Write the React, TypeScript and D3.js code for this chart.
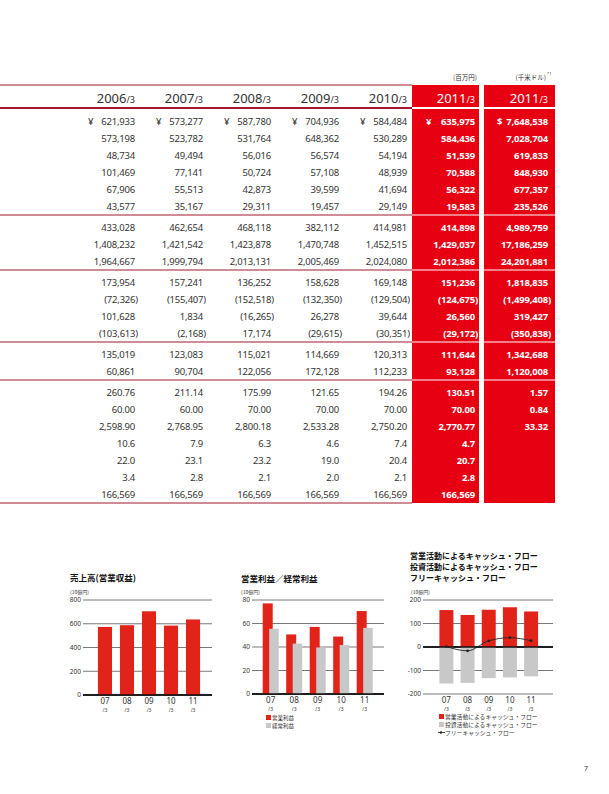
import React from "react";
import * as d3 from "d3";

// table: fiscal years (yen columns) + one USD column
const YEARS = ["2006", "2007", "2008", "2009", "2010", "2011"];

const GROUP1 = [
  ["621,933", "573,277", "587,780", "704,936", "584,484", "635,975"],
  ["573,198", "523,782", "531,764", "648,362", "530,289", "584,436"],
  ["48,734", "49,494", "56,016", "56,574", "54,194", "51,539"],
  ["101,469", "77,141", "50,724", "57,108", "48,939", "70,588"],
  ["67,906", "55,513", "42,873", "39,599", "41,694", "56,322"],
  ["43,577", "35,167", "29,311", "19,457", "29,149", "19,583"]
];
const USD1 = ["7,648,538", "7,028,704", "619,833", "848,930", "677,357", "235,526"];

const GROUP2 = [
  ["433,028", "462,654", "468,118", "382,112", "414,981", "414,898"],
  ["1,408,232", "1,421,542", "1,423,878", "1,470,748", "1,452,515", "1,429,037"],
  ["1,964,667", "1,999,794", "2,013,131", "2,005,469", "2,024,080", "2,012,386"]
];
const USD2 = ["4,989,759", "17,186,259", "24,201,881"];

const GROUP3 = [
  ["173,954", "157,241", "136,252", "158,628", "169,148", "151,236"],
  ["(72,326)", "(155,407)", "(152,518)", "(132,350)", "(129,504)", "(124,675)"],
  ["101,628", "1,834", "(16,265)", "26,278", "39,644", "26,560"],
  ["(103,613)", "(2,168)", "17,174", "(29,615)", "(30,351)", "(29,172)"]
];
const USD3 = ["1,818,835", "(1,499,408)", "319,427", "(350,838)"];

const GROUP4 = [
  ["135,019", "123,083", "115,021", "114,669", "120,313", "111,644"],
  ["60,861", "90,704", "122,056", "172,128", "112,233", "93,128"]
];
const USD4 = ["1,342,688", "1,120,008"];

const GROUP5 = [
  ["260.76", "211.14", "175.99", "121.65", "194.26", "130.51"],
  ["60.00", "60.00", "70.00", "70.00", "70.00", "70.00"],
  ["2,598.90", "2,768.95", "2,800.18", "2,533.28", "2,750.20", "2,770.77"],
  ["10.6", "7.9", "6.3", "4.6", "7.4", "4.7"],
  ["22.0", "23.1", "23.2", "19.0", "20.4", "20.7"],
  ["3.4", "2.8", "2.1", "2.0", "2.1", "2.8"],
  ["166,569", "166,569", "166,569", "166,569", "166,569", "166,569"]
];
const USD5 = ["1.57", "0.84", "33.32", "", "", "", ""];

const GROUPS = [
  { rows: GROUP1, usd: USD1 },
  { rows: GROUP2, usd: USD2 },
  { rows: GROUP3, usd: USD3 },
  { rows: GROUP4, usd: USD4 },
  { rows: GROUP5, usd: USD5 }
];

// charts (10億円)
const FY = ["07", "08", "09", "10", "11"];
const SALES = [573.3, 587.8, 704.9, 584.5, 636.0];
const OP_INCOME = [77.1, 50.7, 57.1, 48.9, 70.6];
const ORD_INCOME = [55.5, 42.9, 39.6, 41.7, 56.3];
const OP_CF = [157.2, 136.3, 158.6, 169.1, 151.2];
const INV_CF = [-155.4, -152.5, -132.4, -129.5, -124.7];
const FREE_CF = [1.8, -16.3, 26.3, 39.6, 26.6];

const RED = "#e60012";
const BAR_RED = "#e2231a";
const GRAY = "#c8c8c8";
const LINE_RED = "#a0192e";
const TXT = "#333";
const NUM_FONT = "'Noto Sans', 'DejaVu Sans', sans-serif";
const JP_FONT = "'Noto Sans CJK JP', sans-serif";

function Table() {
  const colX = d3.scaleLinear().domain([0, 5]).range([135, 475]);
  const usdX = 548;
  const redL = 412, redR = 479, usdL = 484, usdR = 555;
  const top = 85, headLine = 108;

  // row layout
  let y = 121;
  const rowYs: number[][] = [];
  const seps: number[] = [];
  GROUPS.forEach(g => {
    const ys: number[] = [];
    g.rows.forEach(() => {
      ys.push(y);
      y += 17;
    });
    rowYs.push(ys);
    const sep = y - 17 + 9;
    seps.push(sep);
    y = sep + 12;
  });
  const bottom = seps[seps.length - 1];

  const valX = (x: number, s: string) => (s.endsWith(")") ? x + 3 : x);

  return (
    <g>
      <rect x={redL} y={top} width={redR - redL} height={bottom - top} fill={RED} />
      <rect x={usdL} y={top} width={usdR - usdL} height={bottom - top} fill={RED} />
      <line x1={0} x2={redL} y1={top} y2={top} stroke={LINE_RED} strokeWidth={1.2} />
      <line x1={0} x2={redL} y1={headLine} y2={headLine} stroke={LINE_RED} strokeWidth={2} />
      <line x1={redL} x2={redR} y1={headLine} y2={headLine} stroke="#fff" strokeWidth={2} />
      <line x1={usdL} x2={usdR} y1={headLine} y2={headLine} stroke="#fff" strokeWidth={2} />
      {seps.map((s, i) => (
        <g key={i}>
          <line x1={0} x2={redL} y1={s} y2={s} stroke={LINE_RED} strokeWidth={1.2} />
          {i < seps.length - 1 && (
            <>
              <line x1={redL} x2={redR} y1={s} y2={s} stroke="#fff" strokeWidth={1.2} />
              <line x1={usdL} x2={usdR} y1={s} y2={s} stroke="#fff" strokeWidth={1.2} />
            </>
          )}
        </g>
      ))}

      {/* unit labels */}
      <text x={477} y={80} textAnchor="end" fontFamily={JP_FONT} fontSize={6.5} fill={TXT}>
        (百万円)
      </text>
      <text x={546} y={80} textAnchor="end" fontFamily={JP_FONT} fontSize={6.5} fill={TXT}>
        (千米ドル)
      </text>
      <text x={547} y={75} fontFamily={NUM_FONT} fontSize={4} fill={TXT}>
        *1
      </text>

      {/* header years */}
      {YEARS.map((yr, i) => (
        <text
          key={yr}
          x={colX(i)}
          y={103}
          textAnchor="end"
          fontFamily={NUM_FONT}
          fontSize={13}
          fill={i === 5 ? "#fff" : TXT}
        >
          {yr}
          <tspan fontSize={9}>/3</tspan>
        </text>
      ))}
      <text x={usdX} y={103} textAnchor="end" fontFamily={NUM_FONT} fontSize={13} fill="#fff">
        2011<tspan fontSize={9}>/3</tspan>
      </text>

      {/* currency signs */}
      {YEARS.map((yr, i) => (
        <text
          key={"c" + yr}
          x={colX(i) - (i === 5 ? 49 : 47)}
          y={rowYs[0][0] + 3.5}
          fontFamily={NUM_FONT}
          fontSize={9.5}
          fontWeight={i === 5 ? 700 : 400}
          fill={i === 5 ? "#fff" : TXT}
        >
          ¥
        </text>
      ))}
      <text x={usdX - 51} y={rowYs[0][0] + 3.5} fontFamily={NUM_FONT} fontSize={9.5} fontWeight={700} fill="#fff">
        $
      </text>

      {/* values */}
      {GROUPS.map((g, gi) =>
        g.rows.map((row, ri) => {
          const yy = rowYs[gi][ri] + 3.5;
          return (
            <g key={gi + "-" + ri}>
              {row.map((v, ci) => (
                <text
                  key={ci}
                  x={valX(colX(ci), v)}
                  y={yy}
                  textAnchor="end"
                  fontFamily={NUM_FONT}
                  fontSize={9.5}
                  fontWeight={ci === 5 ? 700 : 400}
                  fill={ci === 5 ? "#fff" : TXT}
                  letterSpacing={-0.2}
                >
                  {v}
                </text>
              ))}
              <text
                x={valX(usdX, g.usd[ri])}
                y={yy}
                textAnchor="end"
                fontFamily={NUM_FONT}
                fontSize={9.5}
                fontWeight={700}
                fill="#fff"
                letterSpacing={-0.2}
              >
                {g.usd[ri]}
              </text>
            </g>
          );
        })
      )}
    </g>
  );
}

// shared axis/grid pieces for the small charts
function Grid({ y, ticks, x0, x1, zero }: any) {
  return (
    <g>
      {ticks.map((t: number) => (
        <g key={t}>
          <line
            x1={x0}
            x2={x1}
            y1={y(t)}
            y2={y(t)}
            stroke={t === zero ? "#111" : "#555"}
            strokeWidth={t === zero ? 1.4 : 0.8}
          />
          <text x={x0 - 2} y={y(t) + 2.3} textAnchor="end" fontFamily={NUM_FONT} fontSize={6.5} fill={TXT}>
            {t}
          </text>
        </g>
      ))}
    </g>
  );
}

function XLabels({ x, y0 }: any) {
  return (
    <g>
      {FY.map(f => (
        <g key={f}>
          <text x={x(f)} y={y0} textAnchor="middle" fontFamily={NUM_FONT} fontSize={8} fill={TXT}>
            {f}
          </text>
          <text x={x(f)} y={y0 + 7.5} textAnchor="middle" fontFamily={NUM_FONT} fontSize={5} fill={TXT}>
            /3
          </text>
        </g>
      ))}
    </g>
  );
}

function SalesChart() {
  const y = d3.scaleLinear().domain([0, 800]).range([695, 600]);
  const x = d3.scaleBand().domain(FY).range([90, 208]).padding(0.36);
  return (
    <g>
      <text x={70} y={581} fontFamily={JP_FONT} fontSize={8.5} fontWeight={700} fill="#111">
        売上高(営業収益)
      </text>
      <text x={70} y={594} fontFamily={JP_FONT} fontSize={5} fill={TXT}>
        (10億円)
      </text>
      <Grid y={y} ticks={[0, 200, 400, 600, 800]} x0={83} x1={212} zero={0} />
      {SALES.map((v, i) => (
        <rect key={i} x={x(FY[i])} y={y(v)} width={x.bandwidth()} height={y(0) - y(v)} fill={BAR_RED} />
      ))}
      <line x1={83} x2={212} y1={y(0)} y2={y(0)} stroke="#111" strokeWidth={1.4} />
      <XLabels x={(f: string) => (x(f) as number) + x.bandwidth() / 2} y0={704} />
    </g>
  );
}

function IncomeChart() {
  const y = d3.scaleLinear().domain([0, 80]).range([694, 600]);
  const x = d3.scalePoint().domain(FY).range([270.7, 364.7]);
  return (
    <g>
      <text x={241} y={582} fontFamily={JP_FONT} fontSize={8.5} fontWeight={700} fill="#111">
        営業利益／経常利益
      </text>
      <text x={241} y={594} fontFamily={JP_FONT} fontSize={5} fill={TXT}>
        (10億円)
      </text>
      <Grid y={y} ticks={[0, 20, 40, 60, 80]} x0={252} x1={384} zero={0} />
      {OP_INCOME.map((v, i) => (
        <rect key={"o" + i} x={(x(FY[i]) as number) - 8} y={y(v)} width={10} height={y(0) - y(v)} fill={BAR_RED} />
      ))}
      {ORD_INCOME.map((v, i) => (
        <rect key={"r" + i} x={(x(FY[i]) as number) - 1.5} y={y(v)} width={9.5} height={y(0) - y(v)} fill={GRAY} />
      ))}
      <line x1={252} x2={384} y1={y(0)} y2={y(0)} stroke="#111" strokeWidth={1.4} />
      <XLabels x={x} y0={703} />
      <rect x={266} y={715} width={5} height={5} fill={BAR_RED} />
      <text x={272} y={720} fontFamily={JP_FONT} fontSize={5.5} fill={TXT}>
        営業利益
      </text>
      <rect x={266} y={723} width={5} height={5} fill={GRAY} />
      <text x={272} y={728} fontFamily={JP_FONT} fontSize={5.5} fill={TXT}>
        経常利益
      </text>
    </g>
  );
}

function CashFlowChart() {
  const y = d3.scaleLinear().domain([-200, 200]).range([694, 600]);
  const x = d3.scaleBand().domain(FY).range([432.2, 545.3]).padding(0.34);
  const cx = (f: string) => (x(f) as number) + x.bandwidth() / 2;
  const line = d3
    .line<number>()
    .x((_, i) => cx(FY[i]))
    .y(d => y(d))
    .curve(d3.curveMonotoneX);
  return (
    <g>
      {["営業活動によるキャッシュ・フロー", "投資活動によるキャッシュ・フロー", "フリーキャッシュ・フロー"].map(
        (t, i) => (
          <text key={i} x={410} y={559 + i * 11} fontFamily={JP_FONT} fontSize={8} fontWeight={700} fill="#111">
            {t}
          </text>
        )
      )}
      <text x={411} y={594} fontFamily={JP_FONT} fontSize={5} fill={TXT}>
        (10億円)
      </text>
      <Grid y={y} ticks={[-200, -100, 0, 100, 200]} x0={423} x1={553} zero={0} />
      {OP_CF.map((v, i) => (
        <rect key={"p" + i} x={x(FY[i])} y={y(v)} width={x.bandwidth()} height={y(0) - y(v)} fill={BAR_RED} />
      ))}
      {INV_CF.map((v, i) => (
        <rect key={"n" + i} x={x(FY[i])} y={y(0)} width={x.bandwidth()} height={y(v) - y(0)} fill={GRAY} />
      ))}
      <line x1={423} x2={553} y1={y(0)} y2={y(0)} stroke="#111" strokeWidth={1.4} />
      <path d={line(FREE_CF) || ""} fill="none" stroke="#222" strokeWidth={0.9} />
      {FREE_CF.map((v, i) => (
        <circle key={"f" + i} cx={cx(FY[i])} cy={y(v)} r={1.4} fill="#222" />
      ))}
      <XLabels x={cx} y0={703} />
      <rect x={439} y={714} width={5} height={5} fill={BAR_RED} />
      <text x={445} y={719} fontFamily={JP_FONT} fontSize={5.8} fill={TXT}>
        営業活動によるキャッシュ・フロー
      </text>
      <rect x={439} y={722} width={5} height={5} fill={GRAY} />
      <text x={445} y={727} fontFamily={JP_FONT} fontSize={5.8} fill={TXT}>
        投資活動によるキャッシュ・フロー
      </text>
      <line x1={438} x2={445} y1={732.5} y2={732.5} stroke="#222" strokeWidth={0.8} />
      <circle cx={441} cy={732.5} r={1.2} fill="#222" />
      <text x={445} y={735} fontFamily={JP_FONT} fontSize={5.8} fill={TXT}>
        フリーキャッシュ・フロー
      </text>
    </g>
  );
}

export default function App() {
  return (
    <svg
      width={609}
      height={794}
      style={{ position: "absolute", left: 0, top: 0, background: "#fff" }}
    >
      <Table />
      <SalesChart />
      <IncomeChart />
      <CashFlowChart />
      <text x={584} y={771} fontFamily={NUM_FONT} fontSize={7} fill={TXT}>
        7
      </text>
    </svg>
  );
}
